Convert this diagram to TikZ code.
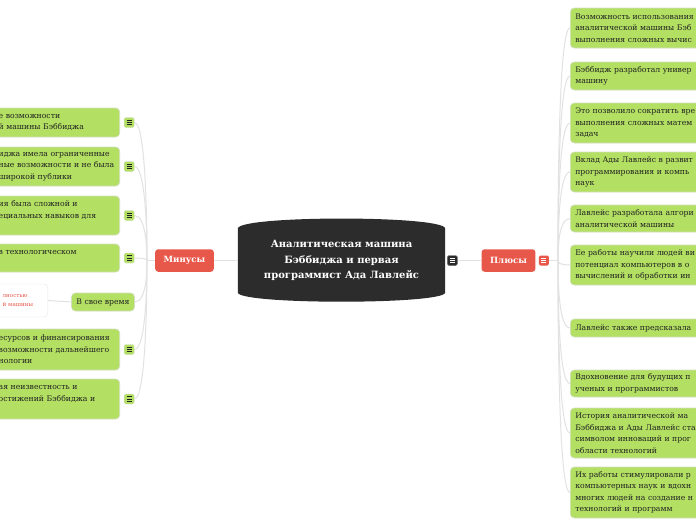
\documentclass[tikz,border=0pt]{standalone}
\usepackage{fontspec}
\setmainfont{DejaVu Serif}
\usetikzlibrary{positioning,calc,backgrounds}
\definecolor{Leaf}{HTML}{B3E063}
\definecolor{LeafEdge}{HTML}{D2DDC0}
\definecolor{Coral}{HTML}{E8584A}
\definecolor{Dark}{HTML}{2C2C2C}
\definecolor{Wire}{HTML}{E2E2E2}
\definecolor{Ink}{HTML}{222222}
\definecolor{Paper}{HTML}{E6E6E6}

\tikzset{
  leaf/.style={draw=LeafEdge, line width=0.6pt, fill=Leaf, rounded corners=4pt,
    inner xsep=5pt, inner ysep=0pt, align=left, text=Ink,
    font=\fontsize{7.7}{11.5}\selectfont},
  leftleaf/.style={leaf, inner xsep=3pt, text width=118pt, anchor=east},
  rightleaf/.style={leaf, text width=200pt, anchor=west},
  branch/.style={fill=Coral, rounded corners=3pt, text=white, inner xsep=8.5pt,
    minimum height=22.5pt, font=\fontsize{8.6}{10}\selectfont\bfseries},
  title/.style={minimum width=207pt, minimum height=64pt, align=center, text=white,
    font=\fontsize{10}{15.5}\selectfont\bfseries},
  menu/.style={minimum size=10pt, inner sep=0pt, rounded corners=1.5pt,
    path picture={\foreach \k in {0.28,0.5,0.72}
      \draw[#1, line width=0.8pt]
        ($(path picture bounding box.north west)!\k!(path picture bounding box.south west)+(2.5pt,0)$) -- +(5pt,0);}},
  greenicon/.style={menu=Ink, fill=Leaf, draw=LeafEdge},
  darkicon/.style={menu=white, fill=Dark, draw=Dark!70},
  redicon/.style={menu=white, fill=Coral},
  conn/.style={draw=Wire, line width=1pt},
  stem/.style={draw=Wire, line width=1.6pt}
}

\begin{document}
\begin{tikzpicture}[x=1pt,y=-1pt]
\useasboundingbox (0,0) rectangle (696,520);
\clip (0,0) rectangle (696,520);

% centre and branches
\node[title] (root) at (341.5,260.5) {Аналитическая машина\\Бэббиджа и первая\\программист Ада Лавлейс};
\node[darkicon, right=2pt of root] (root-i) {};
\node[branch] (minus) at (184.5,260.5) {Минусы};
\node[branch] (plus) at (508.5,260.5) {Плюсы};
\node[redicon, right=3pt of plus] (plus-i) {};
\coordinate (lt) at (147,260.5);
\coordinate (rt) at (558,260.5);

% minus side
\node[leftleaf, minimum height=29pt] (l1) at (120,122.5) {е возможности\\й машины Бэббиджа};
\node[leftleaf, minimum height=39pt] (l2) at (120,166.5) {иджа имела ограниченные\\ные возможности и не была\\широкой публики};
\node[leftleaf, minimum height=39pt] (l3) at (120,215.5) {ия была сложной и\\ециальных навыков для\\~};
\node[leftleaf, minimum height=28pt] (l4) at (120,258) {в технологическом\\~};
\node[leaf, anchor=center, minimum height=18pt] (vs) at (103,302) {В свое время};
\node[draw=Paper, fill=white, rounded corners=4pt, anchor=east, minimum width=60pt,
  minimum height=33pt, align=left, text=Coral, font=\fontsize{5.6}{9}\selectfont] (wb) at (48,300.5) {лностью\\й машины};
\node[leftleaf, minimum height=41pt] (l6) at (120,349.5) {есурсов и финансирования\\возможности дальнейшего\\нологии};
\node[leftleaf, minimum height=40pt] (l7) at (120,399) {ая неизвестность и\\остижений Бэббиджа и\\~};
\foreach \n in {l1,l2,l3,l4,l6,l7}
  \node[greenicon, right=4pt of \n] (\n-i) {};

% plus side
\node[rightleaf, minimum height=40pt] (r1) at (570,28) {Возможность использования\\аналитической машины Бэб\\выполнения сложных вычис};
\node[rightleaf, minimum height=28pt] (r2) at (570,76) {Бэббидж разработал универ\\машину};
\node[rightleaf, minimum height=40pt] (r3) at (570,123) {Это позволило сократить вре\\выполнения сложных матем\\задач};
\node[rightleaf, minimum height=40pt] (r4) at (570,172) {Вклад Ады Лавлейс в развит\\программирования и компь\\наук};
\node[rightleaf, minimum height=27pt] (r5) at (570,218.5) {Лавлейс разработала алгори\\аналитической машины};
\node[rightleaf, minimum height=40pt] (r6) at (570,265) {Ее работы научили людей ви\\потенциал компьютеров в о\\вычислений и обработки ин};
\node[rightleaf, minimum height=18pt] (r7) at (570,328) {Лавлейс также предсказала};
\node[rightleaf, minimum height=27pt] (r8) at (570,383.5) {Вдохновение для будущих п\\ученых и программистов};
\node[rightleaf, minimum height=50pt] (r9) at (570,433) {История аналитической ма\\Бэббиджа и Ады Лавлейс ста\\символом инноваций и прог\\области технологий};
\node[rightleaf, minimum height=51pt] (r10) at (570,492.5) {Их работы стимулировали р\\компьютерных наук и вдохн\\многих людей на создание н\\технологий и программ};

\begin{scope}[on background layer]
  \fill[white] (0,0) rectangle (696,520);
  \fill[Dark] (root.north west)
    .. controls ($(root.north west)+(3pt,13pt)$) and ($(root.north east)+(-3pt,13pt)$) .. (root.north east)
    -- (root.south east)
    .. controls ($(root.south east)+(-3pt,-12pt)$) and ($(root.south west)+(3pt,-12pt)$) .. (root.south west)
    -- cycle;
  \draw[stem] (root.west) -- (minus.east);
  \draw[stem] (root-i.east) -- (plus.west);
  \draw[conn] (minus.west) -- (lt);
  \draw[conn] (plus-i.east) -- (rt);
  \draw[conn] (wb.east) -- (vs.west);
  \foreach \n in {l1-i,l2-i,l3-i,l4-i,vs,l6-i,l7-i}
    \draw[conn] (lt) .. controls ($(lt)!0.2!(lt|-\n.east)$) and ($(\n.east)+(12pt,0)$) .. (\n.east);
  \foreach \n in {r1,r2,r3,r4,r5,r6,r7,r8,r9,r10}
    \draw[conn] (rt) .. controls ($(rt)!0.2!(rt|-\n.west)$) and ($(\n.west)+(-12pt,0)$) .. (\n.west);
\end{scope}
\end{tikzpicture}
\end{document}
